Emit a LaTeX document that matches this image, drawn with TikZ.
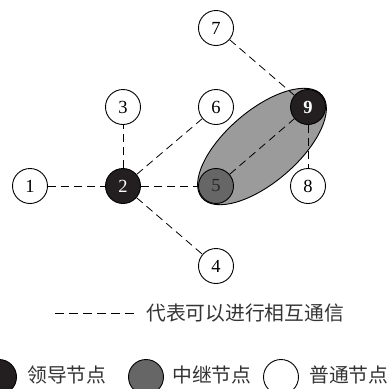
\documentclass[tikz,border=0pt]{standalone}
\usepackage{fontspec}
\setmainfont{Liberation Serif}
\newfontfamily\cjk{Noto Sans CJK SC}
\definecolor{leadc}{HTML}{231F20}
\definecolor{relayc}{HTML}{666666}
\definecolor{ellc}{HTML}{9B9B9B}
\begin{document}
\begin{tikzpicture}[x=1pt,y=-1pt,
  nd/.style={circle,draw=black,line width=0.9pt,minimum size=35pt,inner sep=0pt,font=\fontsize{18.5}{18.5}\selectfont},
  plain/.style={nd,fill=white},
  lead/.style={nd,fill=leadc,text=white},
  relay/.style={nd,fill=relayc,text=black!85},
  link/.style={line width=0.8pt,dash pattern=on 8pt off 5pt},
  lbl/.style={font=\cjk\fontsize{19.8}{19.8}\selectfont,inner sep=0pt,anchor=west,text=black!80}]
\useasboundingbox (0,0) rectangle (392,389);
% ellipse cluster
\draw[fill=ellc,line width=0.9pt,rotate around={40.6:(262,146.5)}] (262,146.5) ellipse [x radius=79, y radius=36];
\node[plain] (n1) at (30,186) {1};
\node[lead] (n2) at (123,186) {2};
\node[plain] (n3) at (123,107) {3};
\node[plain] (n4) at (216,266) {4};
\node[relay] (n5) at (216,186) {5};
\node[plain] (n6) at (216,107) {6};
\node[plain] (n7) at (216,28) {7};
\node[plain] (n8) at (308,186) {8};
\node[lead,font=\fontsize{18.5}{18.5}\selectfont\bfseries] (n9) at (308,107) {9};
\draw[link] (n1) -- (n2);
\draw[link] (n2) -- (n3);
\draw[link] (n2) -- (n6);
\draw[link] (n2) -- (n5);
\draw[link] (n2) -- (n4);
\draw[link] (n7) -- (n9);
\draw[link] (n5) -- (n9);
\draw[link] (n9) -- (n8);
% legend
\coordinate (la) at (55,313);
\coordinate (lb) at (137,313);
\draw[line width=0.8pt,dash pattern=on 9pt off 5pt] (la) -- (lb);
\node[lbl] (t0) at (146,313) {代表可以进行相互通信};
\node[lead] (c1) at (-1,377) {};
\node[lbl] (t1) at (27,375) {领导节点};
\node[relay] (c2) at (146,377) {};
\node[lbl] (t2) at (172,375) {中继节点};
\node[plain] (c3) at (281,377) {};
\node[lbl] (t3) at (309,375) {普通节点};
\end{tikzpicture}
\end{document}
